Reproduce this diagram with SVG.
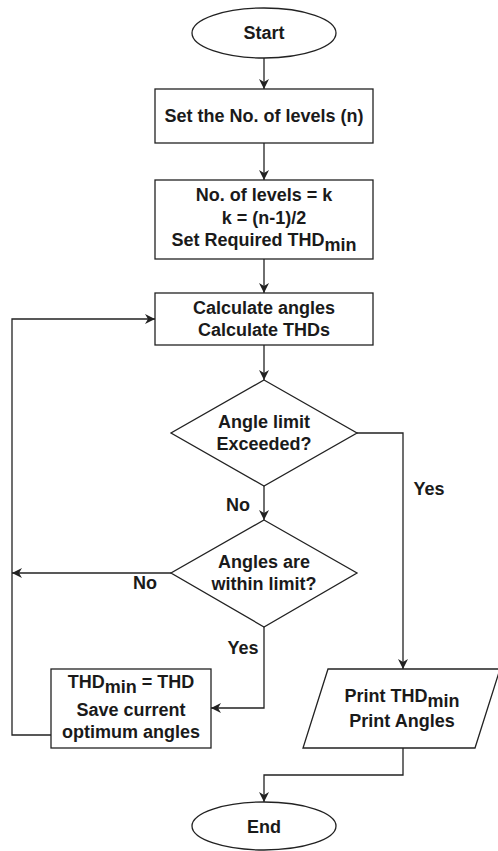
<svg xmlns="http://www.w3.org/2000/svg" width="498" height="851" viewBox="0 0 498 851">
<style>
.s{fill:#fff;stroke:#222;stroke-width:1.3}
.e{fill:none;stroke:#222;stroke-width:1.3}
text{font-family:"Liberation Sans",Arial,sans-serif;font-weight:bold;font-size:18px;fill:#1a1a1a;text-anchor:middle}
</style>
<defs>
<marker id="a" markerUnits="userSpaceOnUse" markerWidth="12" markerHeight="12" refX="10" refY="5" orient="auto">
<path d="M0,0 L10,5 L0,10 L3,5 z" fill="#222"/>
</marker>
</defs>
<rect width="498" height="851" fill="#fff"/>
<g id="edges">
<path class="e" d="M264,58 V89" marker-end="url(#a)"/>
<path class="e" d="M264,143 V180" marker-end="url(#a)"/>
<path class="e" d="M264,259 V293" marker-end="url(#a)"/>
<path class="e" d="M264,345 V380" marker-end="url(#a)"/>
<path class="e" d="M264,486 V520" marker-end="url(#a)"/>
<path class="e" d="M357,433 H403 V669" marker-end="url(#a)"/>
<path class="e" d="M171,573 H12" marker-end="url(#a)"/>
<path class="e" d="M264,627 V708 H211" marker-end="url(#a)"/>
<path class="e" d="M51,735 H12 V319 H155" marker-end="url(#a)"/>
<path class="e" d="M403,748 V775 H264 V802" marker-end="url(#a)"/>
<text x="238" y="511">No</text>
<text x="429" y="495">Yes</text>
<text x="145" y="589">No</text>
<text x="243" y="654">Yes</text>
</g>
<g id="start">
<ellipse class="s" cx="264" cy="33" rx="72" ry="25"/>
<text x="264" y="39">Start</text>
</g>
<g id="setLevels">
<rect class="s" x="155" y="89" width="218" height="54"/>
<text x="264" y="122">Set the No. of levels (n)</text>
</g>
<g id="init">
<rect class="s" x="155" y="180" width="218" height="79"/>
<text x="264" y="201">No. of levels = k</text>
<text x="264" y="224">k = (n-1)/2</text>
<text x="264" y="246">Set Required THD<tspan dy="5">min</tspan></text>
</g>
<g id="calc">
<rect class="s" x="155" y="293" width="218" height="52"/>
<text x="264" y="314">Calculate angles</text>
<text x="264" y="336">Calculate THDs</text>
</g>
<g id="limitCheck">
<path class="s" d="M264,380 L357,433 L264,486 L171,433 Z"/>
<text x="264" y="428">Angle limit</text>
<text x="264" y="450">Exceeded?</text>
</g>
<g id="withinCheck">
<path class="s" d="M264,520 L357,573 L264,627 L171,573 Z"/>
<text x="264" y="568">Angles are</text>
<text x="264" y="590">within limit?</text>
</g>
<g id="save">
<rect class="s" x="51" y="669" width="160" height="79"/>
<text x="131" y="688">THD<tspan dy="5">min</tspan><tspan dy="-5"> = THD</tspan></text>
<text x="131" y="716">Save current</text>
<text x="131" y="738">optimum angles</text>
</g>
<g id="print">
<path class="s" d="M328,669 L500,669 L475,748 L303,748 Z"/>
<text x="402" y="702">Print THD<tspan dy="5">min</tspan></text>
<text x="402" y="727">Print Angles</text>
</g>
<g id="end">
<ellipse class="s" cx="264" cy="826" rx="72" ry="24"/>
<text x="264" y="833">End</text>
</g>
</svg>
